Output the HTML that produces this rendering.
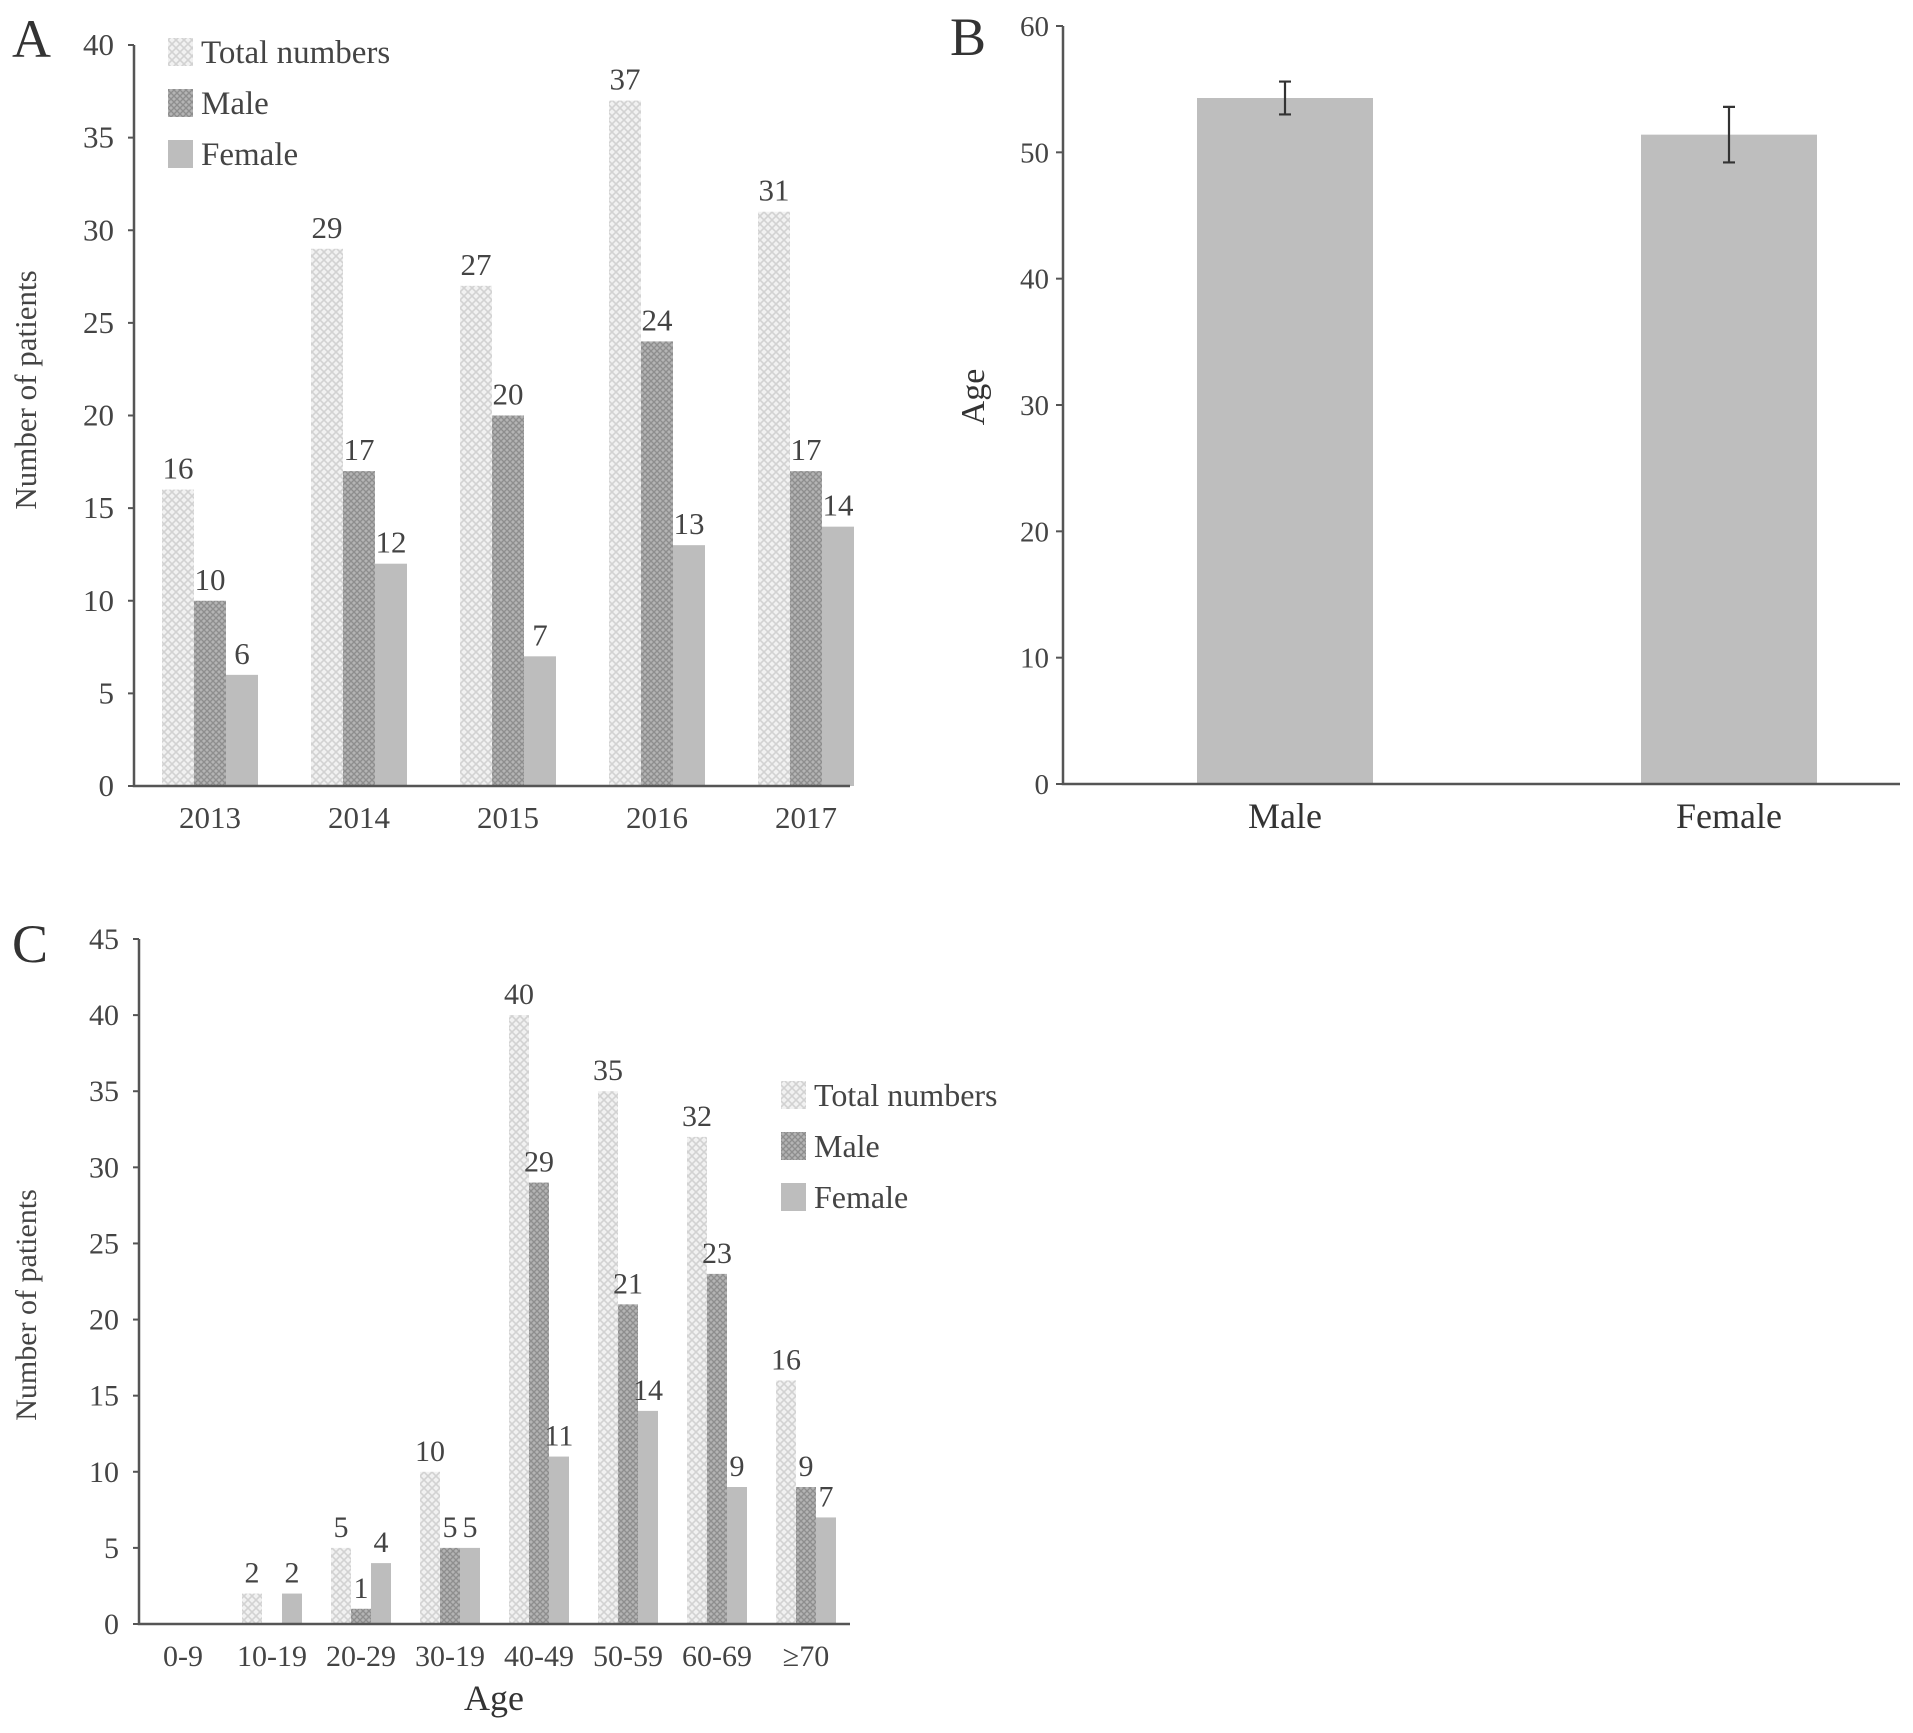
<!DOCTYPE html>
<html><head><meta charset="utf-8">
<style>
html,body{margin:0;padding:0;background:#fff;}
svg{display:block;font-family:"Liberation Serif",serif;}
</style></head>
<body>
<svg id="fig" width="1913" height="1733" viewBox="0 0 1913 1733" xmlns="http://www.w3.org/2000/svg">
<defs>
<pattern id="pTotal" width="8" height="8" patternUnits="userSpaceOnUse">
<rect width="8" height="8" fill="#f1f1f1"/>
<path d="M0 0L8 8M8 0L0 8" stroke="#d2d2d2" stroke-width="1.6"/>
</pattern>
<pattern id="pMale" width="6" height="6" patternUnits="userSpaceOnUse">
<rect width="6" height="6" fill="#b4b4b4"/>
<path d="M0 0L6 6M6 0L0 6" stroke="#8e8e8e" stroke-width="1.4"/>
</pattern>
</defs>
</svg>
<script>
// ---------- Panel A data ----------
const yearsA = ["2013","2014","2015","2016","2017"];
const totalA = [16,29,27,37,31];
const maleA = [10,17,20,24,17];
const femaleA = [6,12,7,13,14];
const ticksA = [0,5,10,15,20,25,30,35,40];
// ---------- Panel B data ----------
const sexB = ["Male","Female"];
const meanB = [54.3,51.4];
const errB = [1.3,2.2];
const ticksB = [0,10,20,30,40,50,60];
// ---------- Panel C data ----------
const agesC = ["0-9","10-19","20-29","30-19","40-49","50-59","60-69","\u226570"];
const totalC = [0,2,5,10,40,35,32,16];
const maleC = [0,0,1,5,29,21,23,9];
const femaleC = [0,2,4,5,11,14,9,7];
const ticksC = [0,5,10,15,20,25,30,35,40,45];

const NS="http://www.w3.org/2000/svg";
const svg=document.getElementById('fig');
function mk(tag,attrs,parent){const e=document.createElementNS(NS,tag);for(const k in attrs)e.setAttribute(k,attrs[k]);(parent||svg).appendChild(e);return e;}
function txt(s,x,y,size,anchor,parent,extra){const t=mk('text',Object.assign({x:x,y:y,'font-size':size,'text-anchor':anchor||'middle',fill:'#444'},extra||{}),parent);t.textContent=s;return t;}
const fills=['url(#pTotal)','url(#pMale)','#bdbdbd'];
const seriesNames=['total','male','female'];

function groupedPanel(p){
  const g=mk('g',{});
  
  
  const y=v=>p.y0-(v/p.max)*(p.y0-p.yTop);
  const step=(p.lastC-p.firstC)/(p.cats.length-1);
  const cx=i=>p.firstC+step*i;
  p.series.forEach((arr,s)=>{
    arr.forEach((v,i)=>{
      const x=cx(i)+(s-1.5)*p.bw;
      if(v>0){
        const r=mk('rect',{x:x,y:y(v),width:p.bw,height:p.y0-y(v),fill:fills[s]},g);
        
        
        const l=txt(String(v),x+p.bw/2,y(v)-11,p.fs,'middle',g);
        
        
      }
    });
  });
  const ax=mk('path',{d:`M${p.x0} ${p.yTop}V${p.y0}H${p.xEnd}`,stroke:'#555','stroke-width':2.5,fill:'none'},g);
  
  
  p.ticks.forEach(t=>{
    mk('line',{x1:p.x0-6,x2:p.x0,y1:y(t),y2:y(t),stroke:'#555','stroke-width':2},g);
    const tl=txt(String(t),p.x0-20,y(t)+10,p.fs,'end',g);
    
    
  });
  p.cats.forEach((c,i)=>{
    const cl=txt(c,cx(i),p.y0+p.labOff,p.fs,'middle',g);
    
    
  });
  const yt=txt('Number of patients',0,0,p.fs,'middle',g,{transform:`translate(${p.ytX},${p.ytY}) rotate(-90)`});
  
  
  const pl=txt(p.letter,p.letterX,p.letterY,54,'start',g,{fill:'#333'});
  
  
  const names=['Total numbers','Male','Female'];
  names.forEach((n,s)=>{
    const ly=p.legY+s*p.legGap;
    const sw=mk('rect',{x:p.legX,y:ly-14,width:25,height:28,fill:fills[s]},g);
    
    
    const lt=txt(n,p.legX+33,ly+11,p.fs+2,'start',g);
    
    
  });
  return {g,y};
}

groupedPanel({name:'panel-a-chart',cats:yearsA,series:[totalA,maleA,femaleA],ticks:ticksA,max:40,
  x0:134,xEnd:850,y0:786,yTop:45,bw:32,firstC:210,lastC:806,fs:31,labOff:42,ytX:36,ytY:390,
  letter:'A',letterX:12,letterY:57,legX:168,legY:52,legGap:51});

const pc=groupedPanel({name:'panel-c-chart',cats:agesC,series:[totalC,maleC,femaleC],ticks:ticksC,max:45,
  x0:139,xEnd:850,y0:1624,yTop:939,bw:20,firstC:183,lastC:806,fs:30,labOff:42,ytX:36,ytY:1305,
  letter:'C',letterX:12,letterY:962,legX:781,legY:1095,legGap:51});
const at=txt('Age',494,1710,36,'middle',pc.g,{fill:'#333'});



// ---------- Panel B ----------
(function(){
  const g=mk('g',{});
  
  
  const x0=1063,xEnd=1900,y0=784,yTop=26,max=60;
  const y=v=>y0-(v/max)*(y0-yTop);
  const centers=[1285,1729];
  const bw=176;
  sexB.forEach((c,i)=>{
    const r=mk('rect',{x:centers[i]-bw/2,y:y(meanB[i]),width:bw,height:y0-y(meanB[i]),fill:'#bebebe'},g);
    
    
    const e=mk('path',{d:`M${centers[i]} ${y(meanB[i]+errB[i])}V${y(meanB[i]-errB[i])}M${centers[i]-6} ${y(meanB[i]+errB[i])}h12M${centers[i]-6} ${y(meanB[i]-errB[i])}h12`,stroke:'#333','stroke-width':2.2,fill:'none'},g);
    
    
    const l=txt(c,centers[i],y0+44,36,'middle',g,{fill:'#333'});
    
    
  });
  const ax=mk('path',{d:`M${x0} ${yTop}V${y0}H${xEnd}`,stroke:'#555','stroke-width':2.5,fill:'none'},g);
  
  
  ticksB.forEach(t=>{
    mk('line',{x1:x0-7,x2:x0,y1:y(t),y2:y(t),stroke:'#555','stroke-width':2},g);
    const tl=txt(String(t),x0-14,y(t)+10,29,'end',g);
    
    
  });
  const yt=txt('Age',0,0,34,'middle',g,{transform:'translate(984,397) rotate(-90)',fill:'#333'});
  
  
  const pl=txt('B',950,55,54,'start',g,{fill:'#333'});
  
  
})();
</script>
</body></html>
